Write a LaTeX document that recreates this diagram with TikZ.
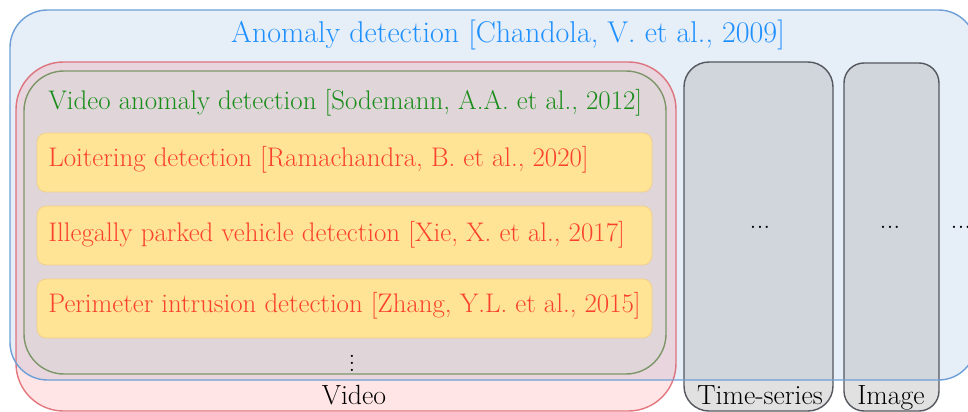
\documentclass[tikz,border=0pt]{standalone}
\usepackage{amsmath}
\usepackage{amssymb}
\usepackage{color}
\usepackage{tikz}

\definecolor{adblue}{RGB}{30,144,255}
\definecolor{adfill}{RGB}{230,238,247}
\definecolor{adline}{RGB}{110,160,215}
\definecolor{vidline}{RGB}{220,90,100}
\definecolor{vadfill}{RGB}{224,214,217}
\definecolor{vadline}{RGB}{125,150,105}
\definecolor{vadgreen}{RGB}{25,140,25}
\definecolor{taskfill}{RGB}{255,228,150}
\definecolor{taskline}{RGB}{240,205,140}
\definecolor{taskred}{RGB}{250,65,45}
\definecolor{otherline}{RGB}{85,88,95}

\tikzset{
  taskbox/.style = {fill = taskfill, draw = taskline, rounded corners = 0.18cm},
  otherbox/.style = {fill = black!32, fill opacity = 0.36, draw = otherline, draw opacity = 1, line width = 0.8pt},
  tasktext/.style = {text = taskred, anchor = base west, inner sep = 0pt},
  domaintext/.style = {anchor = base, inner sep = 0pt, font = \fontsize{15.8}{18}\selectfont}
}

\begin{document}
\begin{tikzpicture}[x = 0.02cm, y = -0.02cm, font = \fontsize{15.3}{18}\selectfont]
            \clip (0,0) rectangle (968,412);
            \fill [adfill, rounded corners = 0.75cm] (10,10) rectangle (976,380);
            % video box
            \draw [fill = red, fill opacity = 0.1, draw = vidline, draw opacity = 0.8, line width = 0.8pt, rounded corners = 0.95cm] (16,62) rectangle (676,411);
            \draw [otherbox, rounded corners = 0.5cm] (684,62) rectangle (833,411);
            \draw [otherbox, rounded corners = 0.4cm] (844,63) rectangle (939,411);
            \draw [adline, line width = 0.8pt, rounded corners = 0.75cm] (10,10) rectangle (976,380);
            \node [domaintext, text = adblue, font = \fontsize{17.1}{20}\selectfont] (ad) at (508,43) {Anomaly detection [Chandola, V. et al., 2009]};
            % video anomaly detection
            \draw [fill = vadfill, draw = vadline, line width = 0.8pt, rounded corners = 0.8cm] (24,71) rectangle (666,374);
            \node [tasktext, text = vadgreen] (vad) at (48,110) {Video anomaly detection [Sodemann, A.A. et al., 2012]};
            \draw [taskbox] (37,133) rectangle (652,192);
            \node [tasktext] (loiter) at (48,167) {Loitering detection [Ramachandra, B. et al., 2020]};
            \draw [taskbox] (37,206) rectangle (652,265);
            \node [tasktext] (parked) at (48,241) {Illegally parked vehicle detection [Xie, X. et al., 2017]};
            \draw [taskbox] (37,279) rectangle (652,338);
            \node [tasktext] (intrusion) at (48,313) {Perimeter intrusion detection [Zhang, Y.L. et al., 2015]};
            \node [inner sep = 0pt] (more) at (352,358) {$\vdots$};
            % domains
            \node [domaintext] (video) at (354,404) {Video};
            \node [domaintext] (timeseries) at (760,404) {Time-series};
            \node [domaintext] (image) at (891,404) {Image};
            \node [domaintext] (tsdots) at (760,229) {...};
            \node [domaintext] (imdots) at (890,229) {...};
            \node [domaintext] (moredots) at (961,229) {...};
        \end{tikzpicture}
\end{document}
